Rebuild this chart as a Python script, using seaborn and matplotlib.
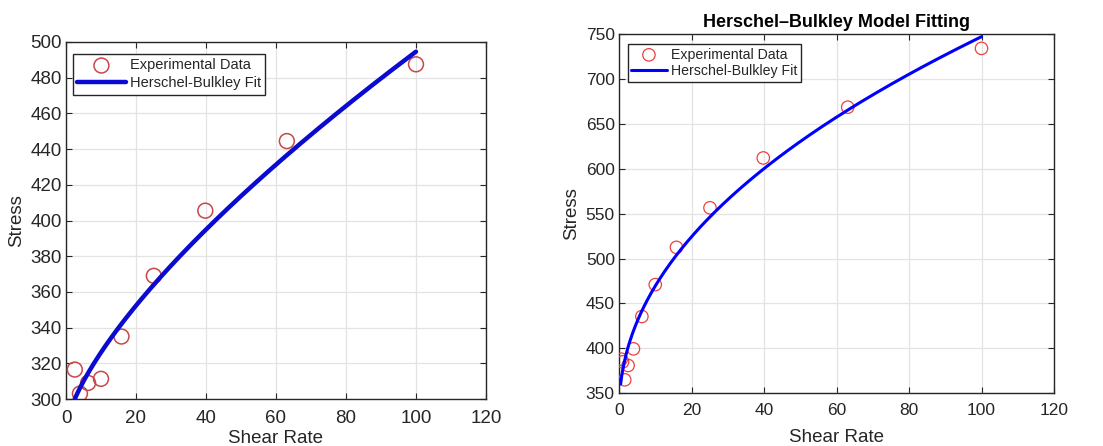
import numpy as np
import pandas as pd
import matplotlib
matplotlib.use("Agg")
import matplotlib.pyplot as plt
import seaborn as sns

# ---- data ----
shear_left = [2.51, 3.98, 6.31, 10.0, 15.85, 25.1, 39.8, 63.1, 100.0]
stress_left = [316.5, 303.0, 309.0, 311.3, 335.0, 369.0, 405.5, 444.5, 487.5]
fit_left = dict(tau0=284.1, K=8.38, n=0.70)

shear_right = [0.63, 1.0, 1.58, 2.51, 3.98, 6.31, 10.0, 15.85, 25.1, 39.8, 63.1, 100.0]
stress_right = [388.0, 385.0, 365.0, 381.0, 399.5, 435.5, 471.0, 512.5, 556.5, 612.0, 668.5, 734.0]
fit_right = dict(tau0=327.2, K=48.2, n=0.47)

xticks = [0, 20, 40, 60, 80, 100, 120]
yticks_left = [300, 320, 340, 360, 380, 400, 420, 440, 460, 480, 500]
yticks_right = [350, 400, 450, 500, 550, 600, 650, 700, 750]

title_right = "Herschel\u2013Bulkley Model Fitting"

sns.set_theme(style="whitegrid")
plt.rcParams['font.family'] = ['Liberation Sans', 'DejaVu Sans']

fig = plt.figure(figsize=(11.03, 4.46), dpi=100)
ax1 = fig.add_axes([66/1103, 1-399/446, 420/1103, 357/446])
ax2 = fig.add_axes([619/1103, 1-393.3/446, 435/1103, 359.3/446])


def hb(x, p):
    x = np.asarray(x)
    return p['tau0'] + p['K'] * x ** p['n']


def style(ax, yticks, fs_tick, fs_lab, xlabelpad, xpad):
    ax.set_xlim(0, 120)
    ax.set_ylim(yticks[0], yticks[-1])
    ax.set_xticks(xticks)
    ax.set_yticks(yticks)
    ax.grid(True, color='#e3e3e3', linewidth=0.9)
    ax.set_facecolor('white')
    for s in ax.spines.values():
        s.set_visible(True)
        s.set_color('#262626')
        s.set_linewidth(1.0)
    ax.tick_params(axis='both', which='both', direction='in', length=4, width=0.8,
                   top=True, right=True, bottom=True, left=True,
                   labelsize=fs_tick, labelcolor='#262626', color='#262626', pad=3)
    ax.tick_params(axis='x', pad=xpad)
    ax.set_xlabel("Shear Rate", fontsize=fs_lab, color='#262626', labelpad=xlabelpad)
    ax.set_ylabel("Stress", fontsize=fs_lab, color='#262626', labelpad=4)


# Left panel
df_l = pd.DataFrame({"Shear Rate": shear_left, "Stress": stress_left})
xl = np.linspace(min(shear_left), max(shear_left), 300)
dfl_fit = pd.DataFrame({"Shear Rate": xl, "Stress": hb(xl, fit_left)})
sns.scatterplot(data=df_l, x="Shear Rate", y="Stress", ax=ax1, marker='o', s=115,
                facecolors='none', edgecolor='#c8474a', linewidth=1.1,
                label="Experimental Data", zorder=3)
sns.lineplot(data=dfl_fit, x="Shear Rate", y="Stress", ax=ax1, color='#0a0ad0',
             linewidth=3.2, label="Herschel-Bulkley Fit", zorder=4)
style(ax1, yticks_left, 13.5, 13.5, 2, 8)
leg1 = ax1.legend(loc='upper left', bbox_to_anchor=(7/420, 1-12/357), borderaxespad=0,
                  fontsize=10.5, frameon=True, fancybox=False,
                  edgecolor='#262626', framealpha=1, borderpad=0.3, labelspacing=0.27,
                  handlelength=3.3, handletextpad=0.3)
leg1.get_frame().set_linewidth(1.0)

# Right panel
df_r = pd.DataFrame({"Shear Rate": shear_right, "Stress": stress_right})
xr = np.linspace(0.45, max(shear_right), 400)
dfr_fit = pd.DataFrame({"Shear Rate": xr, "Stress": hb(xr, fit_right)})
sns.scatterplot(data=df_r, x="Shear Rate", y="Stress", ax=ax2, marker='o', s=80,
                facecolors='none', edgecolor='#ee4040', linewidth=0.9,
                label="Experimental Data", zorder=3)
sns.lineplot(data=dfr_fit, x="Shear Rate", y="Stress", ax=ax2, color='#0000ff',
             linewidth=2.2, label="Herschel-Bulkley Fit", zorder=4)
style(ax2, yticks_right, 12.5, 13.5, 8, 7)
ax2.set_title(title_right, fontsize=13, fontweight='bold', color='black', pad=5)
leg2 = ax2.legend(loc='upper left', bbox_to_anchor=(8.7/435, 1-10/359.3), borderaxespad=0,
                  fontsize=10.2, frameon=True, fancybox=False,
                  edgecolor='#262626', framealpha=1, borderpad=0.25, labelspacing=0.2,
                  handlelength=2.5, handletextpad=0.3)
leg2.get_frame().set_linewidth(1.0)

fig.savefig("out.png", dpi=100, facecolor='white')
